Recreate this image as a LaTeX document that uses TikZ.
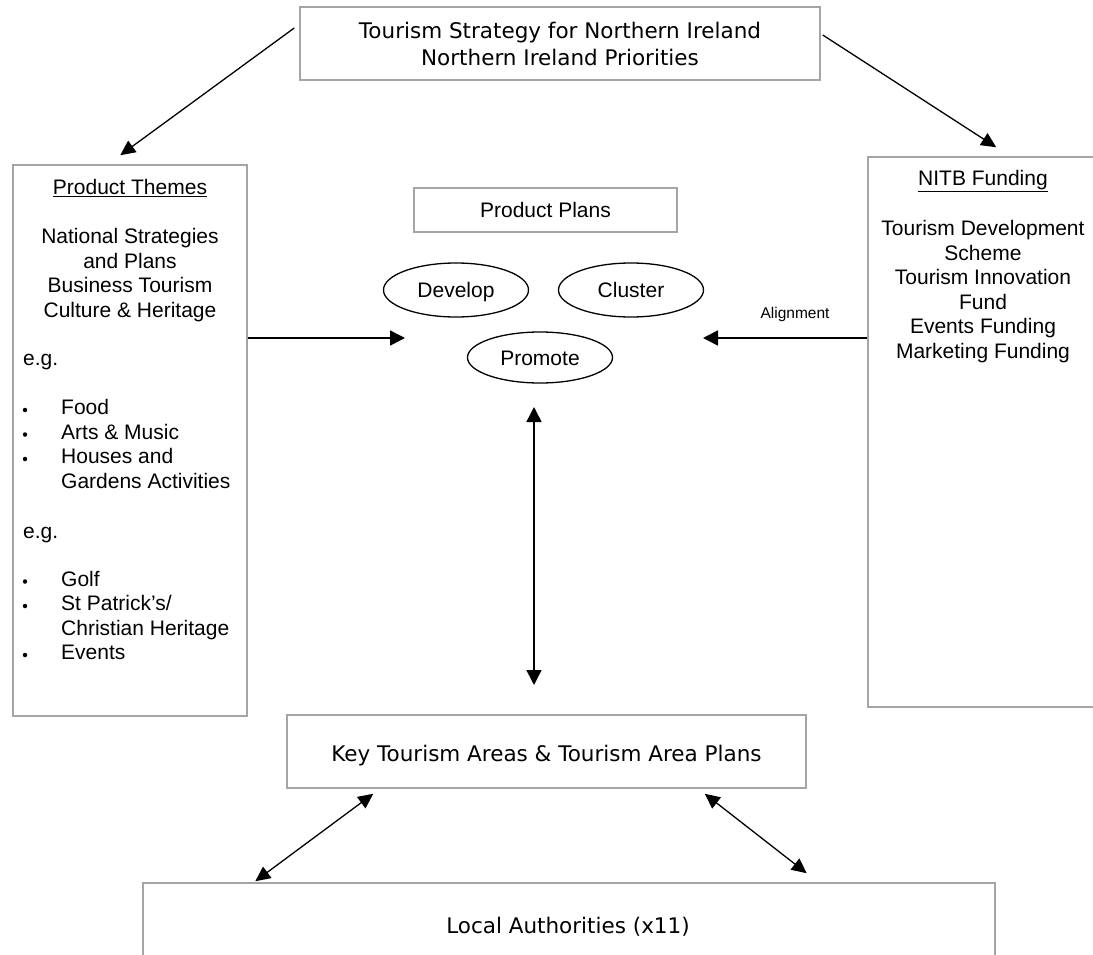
\documentclass[tikz,border=0pt]{standalone}
\usepackage{fontspec}
\setmainfont{Liberation Sans}
\newfontfamily\vfont{DejaVu Sans}
\usetikzlibrary{arrows.meta,shapes.geometric,calc}
\definecolor{boxgray}{RGB}{165,165,165}
\tikzset{
  ar/.style={font=\fontsize{21}{24.5}\selectfont, inner sep=0pt, anchor=base},
  arw/.style={ar, anchor=base west},
  vd/.style={font=\vfont\fontsize{21.5}{27}\selectfont, inner sep=0pt, anchor=base},
  box/.style={draw=boxgray, line width=1.5pt, rectangle, inner sep=0pt},
  oval/.style={draw=black, line width=1.3pt, ellipse, inner sep=0pt,
    minimum width=145pt, minimum height=54pt, text height=15pt, text depth=0pt,
    font=\fontsize{21}{24.5}\selectfont},
  bul/.style={circle, fill=black, inner sep=0pt, minimum size=4.5pt},
  arr/.style={-{Triangle[length=15pt,width=15pt]}, line width=1.6pt},
  thinarr/.style={-{Triangle[length=15pt,width=14pt]}, line width=1.3pt},
  darr/.style={{Triangle[length=15pt,width=15pt]}-{Triangle[length=15pt,width=15pt]}, line width=1.5pt},
  thindarr/.style={{Triangle[length=15pt,width=14pt]}-{Triangle[length=15pt,width=14pt]}, line width=1.3pt}
}
\begin{document}
\begin{tikzpicture}[x=1pt,y=-1pt]
\clip (0,0) rectangle (1093,955);
\fill[white] (0,0) rectangle (1093,955);

% boxes
\node[box, minimum width=520pt, minimum height=73pt] (top) at (560,43.5) {};
\node[box, minimum width=234pt, minimum height=551pt] (pt) at (130,440.5) {};
\node[box, minimum width=232pt, minimum height=550pt] (nitb) at (984,432) {};
\node[box, minimum width=263pt, minimum height=44pt] (pp) at (545.5,210) {};
\node[box, minimum width=519pt, minimum height=73pt] (key) at (546.5,751.5) {};
\node[box, minimum width=852pt, minimum height=92pt] (local) at (569,929) {};

% top box text
\node[vd] (t1) at (560,38.5) {Tourism Strategy for Northern Ireland};
\node[vd] (t2) at (560,65.5) {Northern Ireland Priorities};

% product plans
\node[ar] (ppt) at (545.5,217.5) {Product Plans};
\node[oval] (develop) at (456,290) {Develop};
\node[oval] (cluster) at (631,290) {Cluster};
\node[oval, minimum height=51pt] (promote) at (540,357.5) {Promote};

% left box text
\node[ar] (l0) at (130,194.5) {\underline{Product Themes}};
\node[ar] (l1) at (130,243.5) {National Strategies};
\node[ar] (l2) at (130,268) {and Plans};
\node[ar] (l3) at (130,292.5) {Business Tourism};
\node[ar] (l4) at (130,317) {Culture \& Heritage};
\node[arw] (eg1) at (23,365.5) {e.g.};
\node[bul] (b1) at (25,410) {};
\node[arw] (i1) at (61,414.8) {Food};
\node[bul] (b2) at (25,434.5) {};
\node[arw] (i2) at (61,439.3) {Arts \& Music};
\node[bul] (b3) at (25,459) {};
\node[arw] (i3) at (61,463.8) {Houses and};
\node[arw] (i3b) at (61,488.3) {Gardens Activities};
\node[arw] (eg2) at (23,538) {e.g.};
\node[bul] (b4) at (25,581.5) {};
\node[arw] (i4) at (61,586.3) {Golf};
\node[bul] (b5) at (25,606) {};
\node[arw] (i5) at (61,610.8) {St Patrick’s/};
\node[arw] (i5b) at (61,635.3) {Christian Heritage};
\node[bul] (b6) at (25,655) {};
\node[arw] (i6) at (61,659.8) {Events};

% right box text
\node[ar] (r0) at (983,185.5) {\underline{NITB Funding}};
\node[ar] (r1) at (983,235.5) {Tourism Development};
\node[ar] (r2) at (983,260.1) {Scheme};
\node[ar] (r3) at (983,284.7) {Tourism Innovation};
\node[ar] (r4) at (983,309.3) {Fund};
\node[ar] (r5) at (983,333.9) {Events Funding};
\node[ar] (r6) at (983,358.5) {Marketing Funding};

% bottom texts
\node[vd] (keyt) at (546.5,761.5) {Key Tourism Areas \& Tourism Area Plans};
\node[vd] (localt) at (568,933) {Local Authorities (x11)};

% connectors
\draw[thinarr] ($(top.west)+(-5,-15.5)$) -- ($(pt.north west)+(108,-9)$);
\draw[thinarr] ($(top.east)+(2,-8.5)$) -- ($(nitb.north west)+(129,-9)$);

\coordinate (lt) at (405,338);
\coordinate (rt) at (703,338);
\draw[arr] (pt.east |- lt) -- (lt);
\draw[arr] (nitb.west |- rt) -- (rt);
\node[font=\fontsize{15.5}{18}\selectfont, inner sep=0pt] (align) at (795,314) {Alignment};

\coordinate (va) at (534,407);
\coordinate (vb) at (534,685);
\draw[darr] (va) -- (vb);

\draw[thindarr] ($(key.south west)+(87,5)$) -- ($(local.north west)+(113,-1)$);
\draw[thindarr] ($(key.south east)+(-102,5)$) -- ($(local.north east)+(-189,-9)$);
\end{tikzpicture}
\end{document}
